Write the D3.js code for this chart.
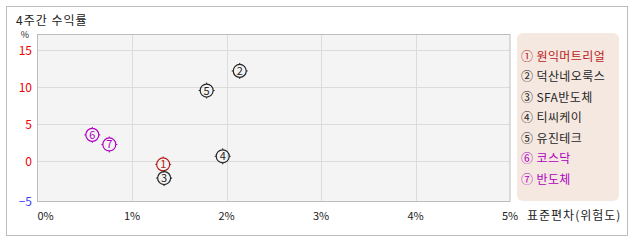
<!DOCTYPE html>
<html>
<head>
<meta charset="utf-8">
<script src="https://cdn.jsdelivr.net/npm/d3@7"></script>
<style>
  body { margin: 0; background: #fff; }
  svg { display: block; font-family: "Noto Sans CJK KR", "DejaVu Sans", sans-serif; }
</style>
</head>
<body>
<div id="chart"></div>
<script>
// DATA
var names  = ["원익머트리얼", "덕산네오룩스", "SFA반도체", "티씨케이", "유진테크", "코스닥", "반도체"];
var marks  = ["①", "②", "③", "④", "⑤", "⑥", "⑦"];
var risk   = [1.33, 2.14, 1.34, 1.96, 1.79, 0.58, 0.76];   // 표준편차 %
var ret    = [-0.45, 12.2, -2.3, 0.65, 9.55, 3.55, 2.25];  // 4주간 수익률 %
var groups = ["stock", "other", "other", "other", "other", "index", "index"];
var xTicks = [0, 1, 2, 3, 4, 5];
var yTicks = [-5, 0, 5, 10, 15];

var colors = { stock: "#b81c1c", other: "#262626", index: "#b000c0" };

var width = 638, height = 242;
var plot = { left: 37.5, right: 510, top: 34, bottom: 201 };

var svg = d3.select("#chart")
  .append("svg")
  .attr("width", width)
  .attr("height", height);

// frame
svg.append("rect")
  .attr("x", 6.5).attr("y", 6.5)
  .attr("width", 621).attr("height", 229)
  .attr("fill", "#fff")
  .attr("stroke", "#bcbcbc");

svg.append("text")
  .attr("x", 16).attr("y", 25)
  .attr("font-size", 12)
  .attr("letter-spacing", 1)
  .attr("fill", "#222")
  .text("4주간 수익률");

var x = d3.scaleLinear()
  .domain([0, 5])
  .range([plot.left, plot.right]);

var y = d3.scaleLinear()
  .domain([-5.4, 17.2])
  .range([plot.bottom, plot.top]);

// plot area
svg.append("rect")
  .attr("x", plot.left).attr("y", plot.top)
  .attr("width", plot.right - plot.left)
  .attr("height", plot.bottom - plot.top)
  .attr("fill", "#f4f4f4");

var grid = svg.append("g").attr("stroke", "#dcdcdc").attr("stroke-width", 1);

grid.selectAll(".vg")
  .data(xTicks.slice(1, -1))
  .enter().append("line")
  .attr("x1", function(d) { return Math.round(x(d)) + 0.5; })
  .attr("x2", function(d) { return Math.round(x(d)) + 0.5; })
  .attr("y1", plot.top).attr("y2", plot.bottom);

grid.selectAll(".hg")
  .data(yTicks.slice(1))
  .enter().append("line")
  .attr("x1", plot.left).attr("x2", plot.right)
  .attr("y1", function(d) { return Math.round(y(d)) + 0.5; })
  .attr("y2", function(d) { return Math.round(y(d)) + 0.5; });

svg.append("rect")
  .attr("x", plot.left).attr("y", plot.top + 0.5)
  .attr("width", plot.right - plot.left)
  .attr("height", plot.bottom - plot.top)
  .attr("fill", "none")
  .attr("stroke", "#bdbdbd");

// y labels (lowest one sits on the axis line)
svg.append("text")
  .attr("x", 25).attr("y", 38)
  .attr("text-anchor", "middle")
  .attr("font-size", 9)
  .attr("fill", "#222")
  .text("%");

svg.selectAll(".ylab")
  .data(yTicks)
  .enter().append("text")
  .attr("class", "ylab")
  .attr("x", 32)
  .attr("y", function(d, i) { return (i == 0 ? plot.bottom : y(d)) + 4.5; })
  .attr("text-anchor", "end")
  .attr("font-size", 12)
  .attr("fill", function(d) { return d < 0 ? "#4040ff" : "#ee0000"; })
  .text(function(d) { return d < 0 ? "\u22125" : d; });

// x labels
svg.selectAll(".xlab")
  .data(xTicks)
  .enter().append("text")
  .attr("class", "xlab")
  .attr("x", function(d, i) { return i == 0 ? plot.left : x(d); })
  .attr("y", 220)
  .attr("text-anchor", function(d, i) { return i == 0 ? "start" : "middle"; })
  .attr("font-size", 11)
  .attr("fill", "#222")
  .text(function(d) { return d + "%"; });

svg.append("text")
  .attr("x", 527).attr("y", 220)
  .attr("font-size", 12)
  .attr("letter-spacing", 1)
  .attr("fill", "#222")
  .text("표준편차(위험도)");

// markers
var pts = svg.selectAll(".pt")
  .data(names.map(function(n, i) { return i; }))
  .enter().append("g")
  .attr("class", "pt")
  .attr("transform", function(i) { return "translate(" + x(risk[i]) + "," + y(ret[i]) + ")"; })
  .attr("stroke", function(i) { return colors[groups[i]]; })
  .attr("fill", function(i) { return colors[groups[i]]; });

pts.append("circle")
  .attr("r", 6.5)
  .attr("fill", "none")
  .attr("stroke-width", 1.2);

[[0, -6.5, 0, -8], [0, 6.5, 0, 8], [-6.5, 0, -8, 0], [6.5, 0, 8, 0]].forEach(function(t) {
  pts.append("line")
    .attr("x1", t[0]).attr("y1", t[1])
    .attr("x2", t[2]).attr("y2", t[3])
    .attr("stroke-width", 1);
});

pts.append("text")
  .attr("text-anchor", "middle")
  .attr("y", 4)
  .attr("font-size", 11)
  .attr("stroke", "none")
  .text(function(i) { return i + 1; });

// legend
svg.append("rect")
  .attr("x", 517).attr("y", 33)
  .attr("width", 102).attr("height", 168)
  .attr("rx", 6)
  .attr("fill", "#f5e8e0");

svg.selectAll(".leg")
  .data(names)
  .enter().append("text")
  .attr("class", "leg")
  .attr("x", 521)
  .attr("y", function(d, i) { return 60.5 + i * 20.5; })
  .attr("font-size", 12)
  .attr("letter-spacing", 0.4)
  .attr("fill", function(d, i) { return colors[groups[i]]; })
  .text(function(d, i) { return marks[i] + " " + d; });
</script>
</body>
</html>
